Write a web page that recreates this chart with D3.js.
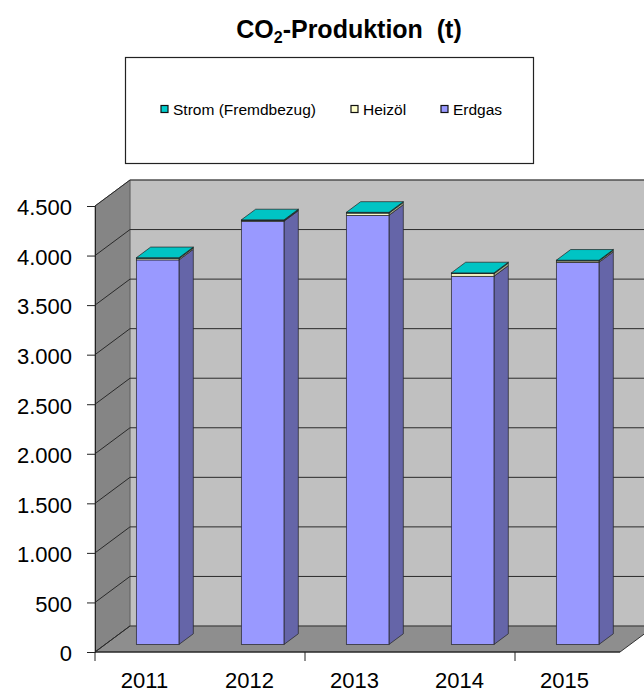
<!DOCTYPE html>
<html>
<head>
<meta charset="utf-8">
<script src="https://cdn.jsdelivr.net/npm/d3@7/dist/d3.min.js"></script>
<style>
  html, body { margin: 0; padding: 0; background: #fff; overflow: hidden; }
  svg { display: block; font-family: "Liberation Sans", Arial, sans-serif; }
</style>
</head>
<body>
<svg id="chart" width="644" height="693"></svg>
<script>
// CO2 output per year, stacked by energy source (tonnes)
const years = ["2011", "2012", "2013", "2014", "2015"];
const erdgas = [3880, 4270, 4330, 3715, 3855];
const heizoel = [14, 6, 22, 26, 14];
const strom = [8, 8, 8, 8, 8];
const yTicks = [0, 500, 1000, 1500, 2000, 2500, 3000, 3500, 4000, 4500];

const seriesNames = ["Erdgas", "Heizöl", "Strom (Fremdbezug)"];
const legendOrder = ["Strom (Fremdbezug)", "Heizöl", "Erdgas"];
const colors = {
  "Erdgas": { front: "#9999ff", side: "#6565a8", top: "#8080d8" },
  "Heizöl": { front: "#ffffcc", side: "#a8a887", top: "#e6e6b8" },
  "Strom (Fremdbezug)": { front: "#00cccc", side: "#008a8a", top: "#00c4c4" }
};

const svg = d3.select("#chart");
const de = d3.formatLocale({ decimal: ",", thousands: ".", grouping: [3], currency: ["", " €"] });
const fmt = de.format(",d");

// plot frame (front plane) and 3D depth
const x0 = 95, x1 = 620, yBase = 652, yTop = 206;
const DX = 35, DY = -26;
const off = d => [DX * d, DY * d];

const x = d3.scaleBand().domain(years).range([x0, x1]).paddingInner(0.594).paddingOuter(0.297);
const y = d3.scaleLinear().domain([0, 4500]).range([yBase, yTop]);

const pts = a => a.map(p => p.join(",")).join(" ");

// walls and floor
const g = svg.append("g");
const yMax = d3.max(yTicks);
g.append("polygon") // back wall
  .attr("points", pts([[x0 + DX, y(yMax) + DY], [700, y(yMax) + DY], [700, y(0) + DY], [x0 + DX, y(0) + DY]]))
  .attr("fill", "#c0c0c0").attr("stroke", "#9a9a9a").attr("stroke-width", 1);
g.append("polygon") // left wall
  .attr("points", pts([[x0, y(yMax)], [x0 + DX, y(yMax) + DY], [x0 + DX, y(0) + DY], [x0, y(0)]]))
  .attr("fill", "#858585").attr("stroke", "#555").attr("stroke-width", 0.8);
g.append("polygon") // floor
  .attr("points", pts([[x0, y(0)], [x1, y(0)], [x1 + DX, y(0) + DY], [x0 + DX, y(0) + DY]]))
  .attr("fill", "#8e8e8e").attr("stroke", "#333").attr("stroke-width", 1);

// gridlines across left wall and back wall
yTicks.filter(v => v > 0).forEach(v => {
  g.append("polyline")
    .attr("points", pts([[x0, y(v)], [x0 + DX, y(v) + DY], [700, y(v) + DY]]))
    .attr("fill", "none").attr("stroke", "#2a2a2a").attr("stroke-width", 1);
});
g.append("line")
  .attr("x1", x0).attr("y1", y(0)).attr("x2", x0 + DX).attr("y2", y(0) + DY)
  .attr("stroke", "#2a2a2a").attr("stroke-width", 1);

// stacked 3D bars
const stackData = years.map((yr, i) => ({ year: yr, "Erdgas": erdgas[i], "Heizöl": heizoel[i], "Strom (Fremdbezug)": strom[i] }));
const stacked = d3.stack().keys(seriesNames)(stackData);
const d0 = 0.29, d1 = 0.70;
const [fx, fy] = off(d0), [bx, by] = off(d1);
const bars = svg.append("g");
years.forEach((yr, i) => {
  const left = x(yr) + fx, right = x(yr) + x.bandwidth() + fx;
  const sdx = bx - fx, sdy = by - fy;
  stacked.forEach((layer, k) => {
    const c = colors[layer.key];
    const lo = y(layer[i][0]) + fy, hi = y(layer[i][1]) + fy;
    bars.append("polygon") // side face
      .attr("points", pts([[right, lo], [right + sdx, lo + sdy], [right + sdx, hi + sdy], [right, hi]]))
      .attr("fill", c.side).attr("stroke", "#222").attr("stroke-width", 0.7);
    bars.append("rect") // front face
      .attr("x", left).attr("y", hi).attr("width", right - left).attr("height", lo - hi)
      .attr("fill", c.front).attr("stroke", "#222").attr("stroke-width", 0.7);
    if (k === stacked.length - 1) {
      bars.append("polygon") // top face
        .attr("points", pts([[left, hi], [right, hi], [right + sdx, hi + sdy], [left + sdx, hi + sdy]]))
        .attr("fill", c.top).attr("stroke", "#222").attr("stroke-width", 0.7);
    }
  });
});

// y axis
const yAxis = d3.axisLeft(y).tickValues(yTicks).tickSize(8).tickPadding(15).tickFormat(fmt);
const ya = svg.append("g").attr("transform", `translate(${x0},0)`).call(yAxis);
ya.select(".domain").attr("stroke", "#222");
ya.selectAll(".tick line").attr("stroke", "#222");
ya.selectAll(".tick text").attr("font-size", 22).attr("fill", "#000")
  .attr("font-family", "'Liberation Sans', Arial, sans-serif").attr("dy", "0.4em");

// x axis: tick marks every second category boundary, labels under each category
const xa = svg.append("g");
xa.append("line").attr("x1", x0).attr("x2", x1).attr("y1", yBase).attr("y2", yBase)
  .attr("stroke", "#222").attr("stroke-width", 1);
const step = x.step();
[0, 2, 4].forEach(k => {
  xa.append("line").attr("x1", x0 + k * step).attr("x2", x0 + k * step)
    .attr("y1", yBase).attr("y2", yBase + 9).attr("stroke", "#222");
});
xa.selectAll("text.cat").data(years).join("text").attr("class", "cat")
  .attr("x", d => x(d) + x.bandwidth() / 2 - 3).attr("y", 688)
  .attr("text-anchor", "middle").attr("font-size", 22).attr("fill", "#000").text(d => d);

// title
const title = svg.append("text").attr("x", 349).attr("y", 38).attr("text-anchor", "middle")
  .attr("font-size", 25).attr("font-weight", "bold").attr("fill", "#000");
title.append("tspan").text("CO");
title.append("tspan").attr("font-size", 16).attr("dy", 5).text("2");
title.append("tspan").attr("dy", -5).text("-Produktion\u00a0 (t)");

// legend
const lg = svg.append("g");
lg.append("rect").attr("x", 125.5).attr("y", 57.5).attr("width", 408).attr("height", 106)
  .attr("fill", "#fff").attr("stroke", "#222").attr("stroke-width", 1.2);
const legendX = [161, 351, 441];
legendOrder.forEach((name, i) => {
  lg.append("rect").attr("x", legendX[i]).attr("y", 105.5).attr("width", 7).attr("height", 7)
    .attr("fill", colors[name].front).attr("stroke", "#111").attr("stroke-width", 1.2);
  lg.append("text").attr("x", legendX[i] + 12).attr("y", 114.5).attr("font-size", 15.5)
    .attr("fill", "#000").text(name);
});
</script>
</body>
</html>
